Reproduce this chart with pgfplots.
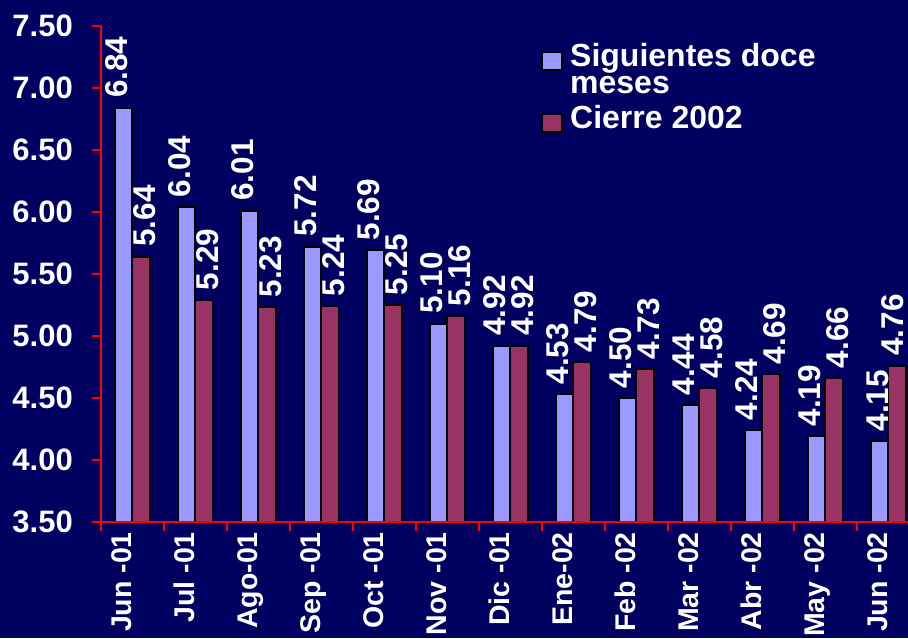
\documentclass[border=0pt]{standalone}
\usepackage{fontspec}
\setmainfont{Liberation Sans}
\usepackage{pgfplots}
\usepackage{pgfplotstable}
\pgfplotsset{compat=1.18}
\definecolor{bg}{RGB}{0,0,96}
\definecolor{lav}{RGB}{153,153,255}
\definecolor{plum}{RGB}{153,51,102}
\newcommand{\fx}{\fontsize{28.5}{27}\selectfont\bfseries}
\newcommand{\fy}{\fontsize{31}{27}\selectfont\bfseries}
\newcommand{\fd}{\fontsize{31.5}{27}\selectfont\bfseries}
\newcommand{\fl}{\fontsize{32}{27}\selectfont\bfseries}
\pgfplotstableread{
x y dx
0 6.84 -7
1 6.04 -7
2 6.01 -7
3 5.72 -7
4 5.69 -7
5 5.10 -7
6 4.92 -7
7 4.53 -7
8 4.50 -7
9 4.44 -7
10 4.24 -7
11 4.19 -7
12 4.15 -2
}\sig
\pgfplotstableread{
x y dx
0 5.64 3
1 5.29 3
2 5.23 3
3 5.24 3
4 5.25 3
5 5.16 3
6 4.92 3
7 4.79 3
8 4.73 3
9 4.58 3
10 4.69 3
11 4.66 3
12 4.76 -5
}\cie
\pgfplotsset{
  boxleg/.style={legend image code/.code={\draw[##1,draw=black,line width=2pt] (0pt,-12pt) rectangle (20pt,6pt);}},
  lbl/.style={visualization depends on={\thisrow{dx}\as\dx},
    every node near coord/.append style={xshift=\dx pt, yshift=9pt, rotate=90, anchor=west, inner sep=0pt, text height=22pt, text depth=0pt, text=white, font=\fd}},
}
\begin{document}
\begin{tikzpicture}
\useasboundingbox (0,0) rectangle (908pt,638pt);
\fill[bg] (0,0) rectangle (908pt,638pt);
\begin{axis}[
  at={(101pt,116pt)}, anchor=south west,
  scale only axis, width=807pt, height=496pt,
  axis on top,
  ybar=0pt, bar width=17.5pt,
  xmin=-0.5, xmax=12.31, ymin=3.5, ymax=7.5,
  axis x line*=bottom, axis y line*=left,
  axis line style={red, line width=2pt},
  tick align=outside, major tick length=9pt, minor tick length=9pt,
  tick style={red, line width=2pt},
  xtick={0,...,12},
  xticklabels={Jun -01, Jul -01, Ago-01, Sep -01, Oct -01, Nov -01, Dic -01, Ene-02, Feb -02, Mar -02, Abr -02, May -02, Jun -02},
  major x tick style={draw=none},
  minor xtick={-0.5,0.5,1.5,2.5,3.5,4.5,5.5,6.5,7.5,8.5,9.5,10.5,11.5},
  ytick={3.5,4,4.5,5,5.5,6,6.5,7,7.5},
  /pgf/number format/assume math mode=true,
  tick label style={text=white},
  yticklabel style={/pgf/number format/.cd, fixed, fixed zerofill, precision=2, /tikz/.cd, font=\fy, inner xsep=0pt, xshift=-19pt},
  xticklabel style={font=\fx, xshift=-11pt, rotate=90, anchor=east, inner xsep=1pt, inner ysep=0pt, text height=20.4pt, text depth=0pt},
  nodes near coords={\pgfmathprintnumber[fixed,fixed zerofill,precision=2]{\pgfplotspointmeta}},
  nodes near coords align={west},
  legend cell align=left,
  legend style={at={(axis description cs:0.5452,0.9637)}, anchor=north west, draw=none, fill=none, text=white, font=\fl, inner sep=0pt, column sep=7pt, row sep=0pt, nodes={inner sep=0pt, text height=22pt, text depth=5pt}},
]
\addplot[fill=lav, draw=black, line width=2pt, boxleg, lbl] table[x=x, y=y] {\sig};
\addlegendentry{Siguientes doce}
\addlegendimage{empty legend}
\addlegendentry[text depth=13pt]{meses}
\addplot[fill=plum, draw=black, line width=2pt, boxleg, lbl] table[x=x, y=y] {\cie};
\addlegendentry{Cierre 2002}
\end{axis}
\end{tikzpicture}
\end{document}
